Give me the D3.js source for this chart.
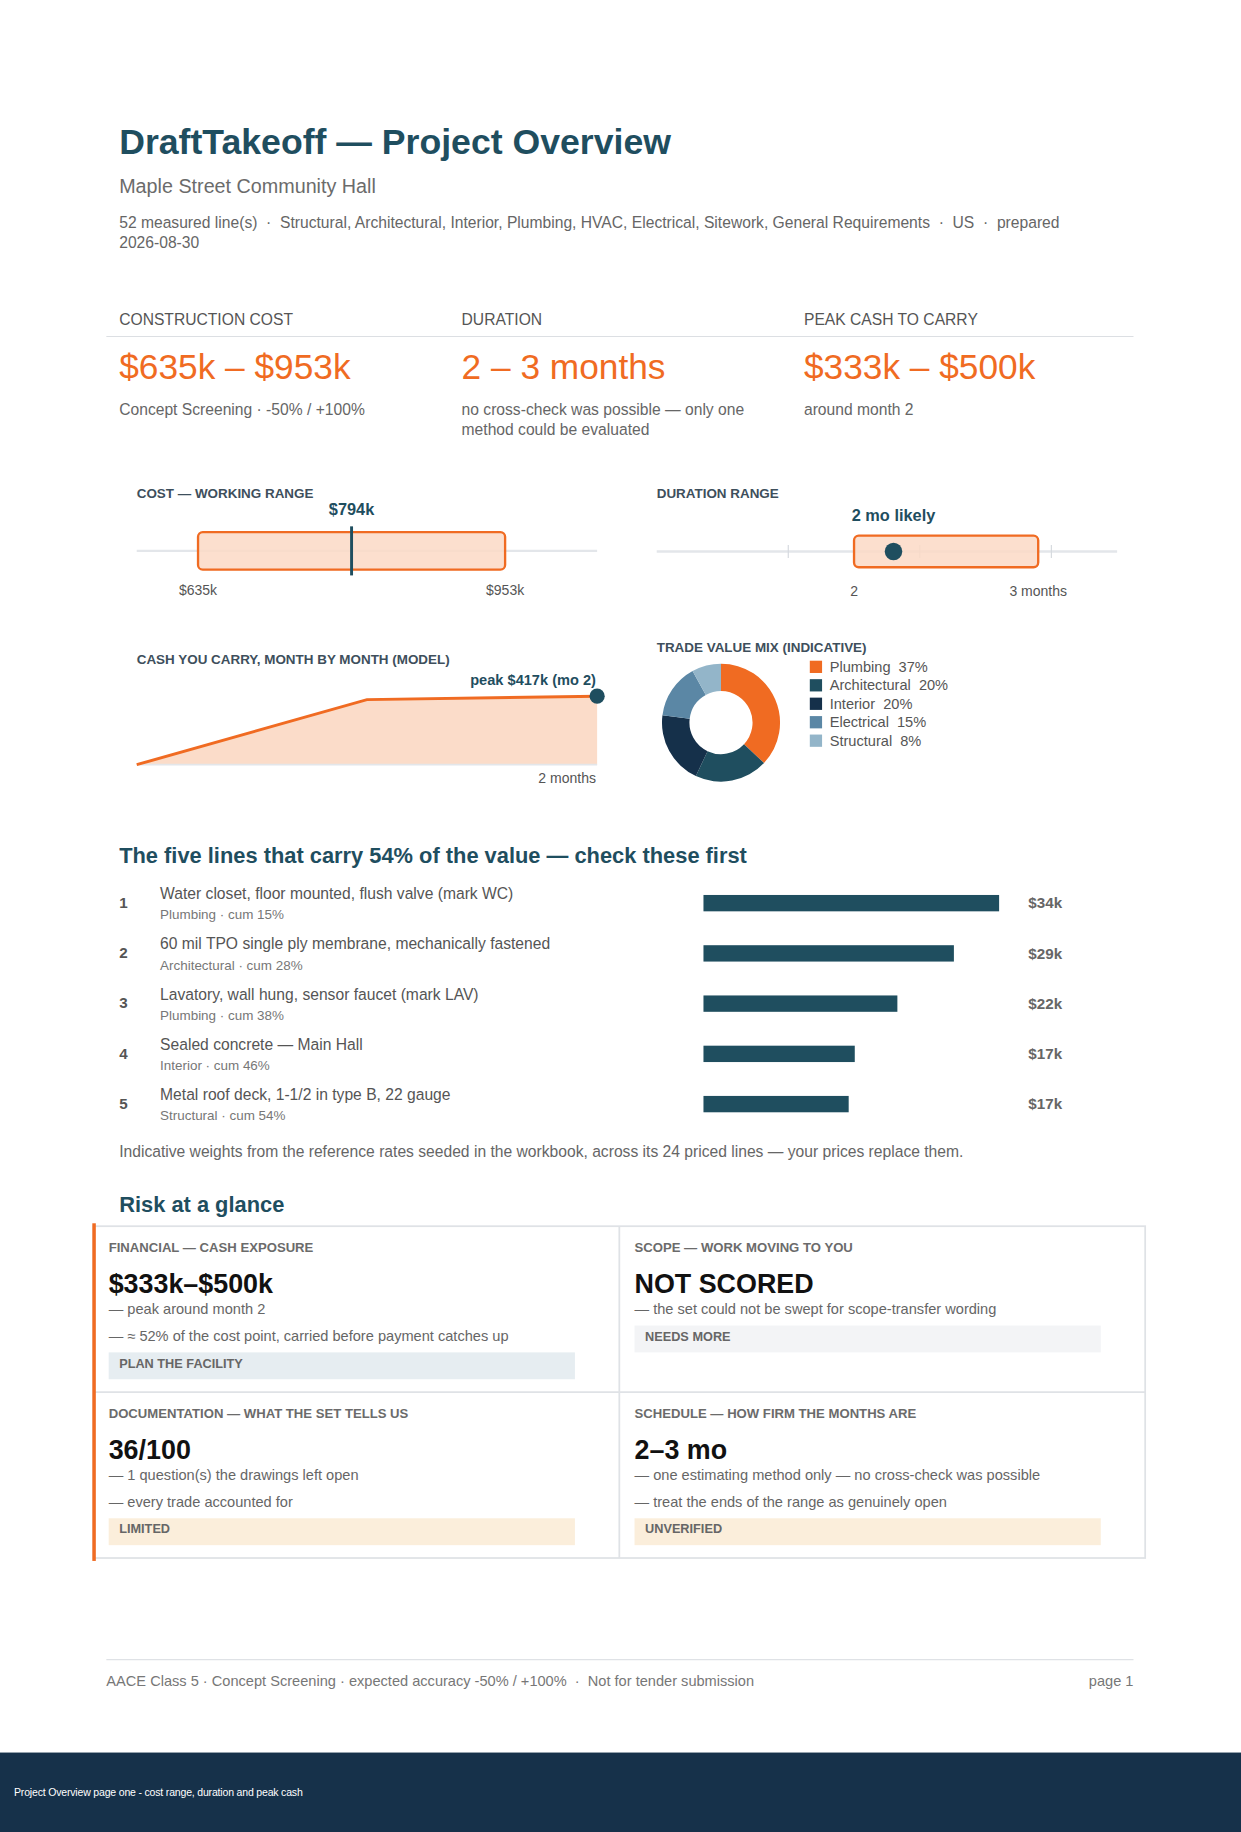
<!DOCTYPE html>
<html>
<head>
<meta charset="utf-8">
<script src="https://cdn.jsdelivr.net/npm/d3@7"></script>
<style>
  html, body { margin: 0; padding: 0; background: #fff; }
  svg { display: block; font-family: "Liberation Sans", Arial, Helvetica, sans-serif; }
</style>
</head>
<body>
<div id="page"></div>
<script>
// headline numbers
const kpiLabels = ['CONSTRUCTION COST', 'DURATION', 'PEAK CASH TO CARRY'];
const kpiValues = ['$635k \u2013 $953k', '2 \u2013 3 months', '$333k \u2013 $500k'];
const kpiNotes = [['Concept Screening \u00b7 -50% / +100%'],
                  ['no cross-check was possible \u2014 only one', 'method could be evaluated'],
                  ['around month 2']];

// cost range ($k)
const costLow = 635, costHigh = 953, costPoint = 794;
// duration range (months)
const durLow = 1.5, durHigh = 2.9, durLikely = 1.8;
const durTicks = [1, 2, 3];

// cash carried per month ($k)
const cashMonths = [0, 1, 2];
const cashValues = [0, 396, 417];

// trade mix
const trades = ['Plumbing', 'Architectural', 'Interior', 'Electrical', 'Structural'];
const tradeShare = [37, 20, 20, 15, 8];
const tradeColours = ['#f06b22', '#1f4e5f', '#15304a', '#5b87a5', '#93b5c9'];

// five biggest lines ($k)
const topLines = ['Water closet, floor mounted, flush valve (mark WC)',
                  '60 mil TPO single ply membrane, mechanically fastened',
                  'Lavatory, wall hung, sensor faucet (mark LAV)',
                  'Sealed concrete \u2014 Main Hall',
                  'Metal roof deck, 1-1/2 in type B, 22 gauge'];
const topTrades = ['Plumbing', 'Architectural', 'Plumbing', 'Interior', 'Structural'];
const topCum = [15, 28, 38, 46, 54];
const topValues = [34.0, 28.8, 22.3, 17.4, 16.7];

// risk cards
const riskLabels = ['FINANCIAL \u2014 CASH EXPOSURE', 'SCOPE \u2014 WORK MOVING TO YOU',
                    'DOCUMENTATION \u2014 WHAT THE SET TELLS US', 'SCHEDULE \u2014 HOW FIRM THE MONTHS ARE'];
const riskValues = ['$333k\u2013$500k', 'NOT SCORED', '36/100', '2\u20133 mo'];
const riskNotes = [['\u2014 peak around month 2', '\u2014 \u2248 52% of the cost point, carried before payment catches up'],
                   ['\u2014 the set could not be swept for scope-transfer wording'],
                   ['\u2014 1 question(s) the drawings left open', '\u2014 every trade accounted for'],
                   ['\u2014 one estimating method only \u2014 no cross-check was possible', '\u2014 treat the ends of the range as genuinely open']];
const riskBadges = ['PLAN THE FACILITY', 'NEEDS MORE', 'LIMITED', 'UNVERIFIED'];
const badgeFills = ['#e6edf1', '#f3f4f6', '#fbeedb', '#fbeedb'];

const W = 1062, H = 1568;
const teal = '#1f4e5f', orange = '#f06b22', orangeFill = '#fbd9c6', slate = '#3e4f5c', grey = '#666';

const svg = d3.select('#page').append('svg')
    .attr('width', 1241).attr('height', 1832)
    .attr('viewBox', `0 0 ${W} ${H}`)
    .attr('preserveAspectRatio', 'none');

function txt(x, y, s, size, fill, weight, anchor) {
    return svg.append('text').attr('x', x).attr('y', y)
        .attr('font-size', size).attr('fill', fill)
        .attr('font-weight', weight || 'normal')
        .attr('text-anchor', anchor || 'start')
        .text(s);
}

// header
txt(102, 132, 'DraftTakeoff \u2014 Project Overview', 30.5, teal, 'bold');
txt(102, 165, 'Maple Street Community Hall', 16.9, '#6b6b6b');
txt(102, 195, '52 measured line(s)  \u00b7  Structural, Architectural, Interior, Plumbing, HVAC, Electrical, Sitework, General Requirements  \u00b7  US  \u00b7  prepared', 13.4, grey)
    .attr('xml:space', 'preserve');
txt(102, 212, '2026-08-30', 13.4, grey);

// KPI strip
const kpiX = d3.scalePoint().domain(kpiLabels).range([102, 688]);
svg.append('line').attr('x1', 91).attr('x2', 970).attr('y1', 288).attr('y2', 288)
    .attr('stroke', '#dcdfe3').attr('stroke-width', 1);
kpiLabels.forEach((k, i) => {
    const x = kpiX(k);
    txt(x, 278, k, 13.4, '#555');
    txt(x, 324, kpiValues[i], 30.2, orange);
    kpiNotes[i].forEach((n, j) => txt(x, 355 + j * 17, n, 13.4, grey));
});

// cost working range
txt(117, 426, 'COST \u2014 WORKING RANGE', 11.5, slate, 'bold');
const xCost = d3.scaleLinear().domain([costLow * 0.9, costHigh * 1.1]).range([117, 511]);
svg.append('line').attr('x1', xCost.range()[0]).attr('x2', xCost.range()[1])
    .attr('y1', 471.5).attr('y2', 471.5).attr('stroke', '#e3e6ea').attr('stroke-width', 2);
svg.append('rect').attr('x', xCost(costLow)).attr('y', 455.5)
    .attr('width', xCost(costHigh) - xCost(costLow)).attr('height', 32).attr('rx', 4)
    .attr('fill', orangeFill).attr('fill-opacity', 0.85).attr('stroke', orange).attr('stroke-width', 2);
svg.append('line').attr('x1', xCost(costPoint)).attr('x2', xCost(costPoint))
    .attr('y1', 450.5).attr('y2', 492.5).attr('stroke', teal).attr('stroke-width', 2.5);
txt(xCost(costPoint), 441, `$${costPoint}k`, 14, teal, 'bold', 'middle');
txt(xCost(costLow), 509.5, `$${costLow}k`, 12, '#555', 'normal', 'middle');
txt(xCost(costHigh), 509.5, `$${costHigh}k`, 12, '#555', 'normal', 'middle');

// duration range
txt(562, 426, 'DURATION RANGE', 11.5, slate, 'bold');
const xDur = d3.scaleLinear().domain([0, 3.5]).range([562, 956]);
svg.append('line').attr('x1', 562).attr('x2', 956).attr('y1', 472).attr('y2', 472)
    .attr('stroke', '#e3e6ea').attr('stroke-width', 2);
svg.selectAll('.dtick').data(durTicks).enter().append('line')
    .attr('x1', d => xDur(d)).attr('x2', d => xDur(d))
    .attr('y1', 466.5).attr('y2', 477.5).attr('stroke', '#d5d9de').attr('stroke-width', 1);
svg.append('rect').attr('x', xDur(durLow)).attr('y', 458.5)
    .attr('width', xDur(durHigh) - xDur(durLow)).attr('height', 27).attr('rx', 4)
    .attr('fill', orangeFill).attr('fill-opacity', 0.85).attr('stroke', orange).attr('stroke-width', 2);
svg.append('circle').attr('cx', xDur(durLikely)).attr('cy', 472).attr('r', 7.5).attr('fill', teal);
txt(xDur(durLikely), 446, `${Math.round(durLikely)} mo likely`, 14, teal, 'bold', 'middle');
txt(xDur(durLow), 510, `${Math.round(durLow)}`, 12, '#555', 'normal', 'middle');
txt(xDur(durHigh), 510, `${Math.round(durHigh)} months`, 12, '#555', 'normal', 'middle');

// cash carried
txt(117, 568, 'CASH YOU CARRY, MONTH BY MONTH (MODEL)', 11.5, slate, 'bold');
const xCash = d3.scaleLinear().domain([0, 2]).range([117, 511]);
const yCash = d3.scaleLinear().domain([0, 530]).range([654.5, 580]);
const pts = cashMonths.map((m, i) => [m, cashValues[i]]);
svg.append('path').datum(pts)
    .attr('d', d3.area().x(d => xCash(d[0])).y0(yCash(0)).y1(d => yCash(d[1])))
    .attr('fill', '#fbdcc9');
svg.append('line').attr('x1', 117).attr('x2', 511).attr('y1', yCash(0)).attr('y2', yCash(0))
    .attr('stroke', '#e3e6ea').attr('stroke-width', 1.5);
svg.append('path').datum(pts)
    .attr('d', d3.line().x(d => xCash(d[0])).y(d => yCash(d[1])))
    .attr('fill', 'none').attr('stroke', orange).attr('stroke-width', 2.5);
const peakI = cashValues.indexOf(d3.max(cashValues));
svg.append('circle').attr('cx', xCash(cashMonths[peakI])).attr('cy', yCash(cashValues[peakI]))
    .attr('r', 6.5).attr('fill', teal);
txt(510, 586, `peak $${cashValues[peakI]}k (mo ${cashMonths[peakI]})`, 12.5, teal, 'bold', 'end');
txt(510, 670, `${d3.max(cashMonths)} months`, 12, '#555', 'normal', 'end');

// trade mix donut
txt(562, 558, 'TRADE VALUE MIX (INDICATIVE)', 11.5, slate, 'bold');
const pie = d3.pie().sort(null).value(d => d.v);
const arc = d3.arc().innerRadius(27).outerRadius(50.5);
const mix = trades.map((t, i) => ({ t: t, v: tradeShare[i], c: tradeColours[i] }));
svg.append('g').attr('transform', 'translate(617,618.5)')
    .selectAll('path').data(pie(mix)).enter().append('path')
    .attr('d', arc).attr('fill', d => d.data.c);
const leg = svg.append('g').selectAll('g').data(mix).enter().append('g')
    .attr('transform', (d, i) => `translate(693,${565.5 + i * 15.8})`);
leg.append('rect').attr('width', 10.5).attr('height', 10.5).attr('fill', d => d.c);
leg.append('text').attr('x', 17).attr('y', 9.5).attr('font-size', 12.5).attr('fill', '#555')
    .attr('xml:space', 'preserve').text(d => `${d.t}  ${d.v}%`);

// top five lines
txt(102, 739, `The five lines that carry ${topCum[topCum.length - 1]}% of the value \u2014 check these first`, 18.7, teal, 'bold');
const yRow = d3.scaleBand().domain(d3.range(topLines.length)).range([751, 966]);
const xTop = d3.scaleLinear().domain([0, d3.max(topValues)]).range([602, 855]);
topLines.forEach((line, i) => {
    const y0 = yRow(i);
    txt(102, y0 + 26, i + 1, 13, '#555', 'bold');
    txt(137, y0 + 18.5, line, 13.4, '#555');
    txt(137, y0 + 36, `${topTrades[i]} \u00b7 cum ${topCum[i]}%`, 11.5, '#777');
    svg.append('rect').attr('x', xTop(0)).attr('y', y0 + 15)
        .attr('width', xTop(topValues[i]) - xTop(0)).attr('height', 14).attr('fill', teal);
    txt(880, y0 + 26.5, `$${Math.round(topValues[i])}k`, 13, '#666', 'bold');
});
txt(102, 990, 'Indicative weights from the reference rates seeded in the workbook, across its 24 priced lines \u2014 your prices replace them.', 13.4, grey);

// risk grid
txt(102, 1037, 'Risk at a glance', 18.7, teal, 'bold');
const gx = [80, 530, 980], gy = [1049.5, 1191.5, 1333.5];
svg.append('rect').attr('x', gx[0]).attr('y', gy[0]).attr('width', gx[2] - gx[0]).attr('height', gy[2] - gy[0])
    .attr('fill', 'none').attr('stroke', '#dfe2e6').attr('stroke-width', 1.5);
svg.append('line').attr('x1', gx[1]).attr('x2', gx[1]).attr('y1', gy[0]).attr('y2', gy[2])
    .attr('stroke', '#dfe2e6').attr('stroke-width', 1.5);
svg.append('line').attr('x1', gx[0]).attr('x2', gx[2]).attr('y1', gy[1]).attr('y2', gy[1])
    .attr('stroke', '#dfe2e6').attr('stroke-width', 1.5);
svg.append('rect').attr('x', 79).attr('y', 1047).attr('width', 3).attr('height', 289).attr('fill', orange);
riskLabels.forEach((lab, i) => {
    const cx = (i % 2 ? gx[1] : gx[0]) + 13;
    const cy = i < 2 ? gy[0] : gy[1];
    txt(cx, cy + 22.5, lab, 11.25, '#6b6b6b', 'bold');
    txt(cx, cy + 57, riskValues[i], 23, '#111', 'bold');
    riskNotes[i].forEach((n, j) => txt(cx, cy + 75 + j * 23, n, 12.5, grey));
    const by = cy + 62 + riskNotes[i].length * 23;
    svg.append('rect').attr('x', cx).attr('y', by).attr('width', 399).attr('height', 23).attr('fill', badgeFills[i]);
    txt(cx + 9, by + 13, riskBadges[i], 10.9, '#666', 'bold');
});

// footer
svg.append('line').attr('x1', 91).attr('x2', 970).attr('y1', 1420.5).attr('y2', 1420.5)
    .attr('stroke', '#dfe2e6').attr('stroke-width', 1);
txt(91, 1443, 'AACE Class 5 \u00b7 Concept Screening \u00b7 expected accuracy -50% / +100%  \u00b7  Not for tender submission', 12.5, '#777')
    .attr('xml:space', 'preserve');
txt(970, 1443, 'page 1', 12.5, '#777', 'normal', 'end');
svg.append('rect').attr('x', 0).attr('y', 1500).attr('width', W).attr('height', H - 1500).attr('fill', '#16314a');
txt(12, 1537, 'Project Overview page one - cost range, duration and peak cash', 9, '#fff')
    .attr('letter-spacing', -0.15);
</script>
</body>
</html>
